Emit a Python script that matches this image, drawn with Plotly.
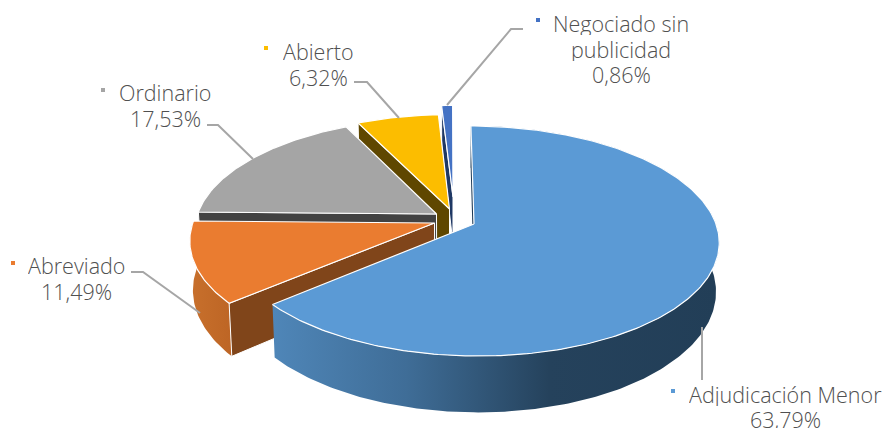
import numpy as np
import plotly.graph_objects as go

# --- data ---
categories = ["Adjudicación Menor", "Abreviado", "Ordinario", "Abierto", "Negociado sin<br>publicidad"]
values = [63.79, 11.49, 17.53, 6.32, 0.86]
top_colors = ["#5b9ad5", "#ea7c30", "#a5a5a5", "#fcbd00", "#4472c4"]
cut_colors = ["#1f3a55", "#80451a", "#424242", "#5f4700", "#1f3864"]

# --- layout of the drawing (pixels of the 885x428 page) ---
W, H = 885, 428
cx, cy, k, kq, p = 450.0, 224.0, 242.0, 112.5, 0.148
depth, shrink = 48.0, 0.988
line_gap = 25.5
apex_px = [(474, 224), (434.5, 223), (436.5, 214), (449.5, 209), (453, 197)]
label_pos = [(785, 394), (76, 265), (165, 92), (318, 51), (621, 23)]
key_pos = [(673, 391), (13, 263), (103, 90), (266, 48), (538, 20)]
leaders = [
    [(702, 327), (702, 380)],
    [(131, 272), (143, 272), (200, 313)],
    [(207, 125), (218, 125), (253, 159)],
    [(354, 82), (367, 82), (399, 118)],
    [(523, 29), (511, 29), (447, 105)],
]
blue_wall_scale = [[0, "#4f86b8"], [0.3, "#3f6d97"], [0.62, "#25425c"], [1, "#223e57"]]
orange_wall_scale = [[0, "#c8702c"], [1, "#bd6525"]]


def project(X, Y):
    w = 1 + p * Y
    return cx + k * X / w, cy - kq * Y / w


def unproject(x, y):
    v = (cy - y) / kq
    Y = v / (1 - p * v)
    return (x - cx) * (1 + p * Y) / k, Y


def lower(X, Y):
    x, y = project(X, Y)
    return cx + (x - cx) * shrink, y + depth / (1 + p * Y)


edges = np.cumsum([0] + values) / sum(values) * 2 * np.pi
fig = go.Figure()


def poly(xs, ys, color=None, line=None, lw=1.0, grad=None):
    kw = dict(fillgradient=dict(type="horizontal", colorscale=grad)) if grad else dict(fillcolor=color)
    fig.add_trace(go.Scatter(x=list(xs), y=list(ys), mode="lines", fill="toself",
                             line=dict(color=line or "rgba(0,0,0,0)", width=lw if line else 0),
                             hoverinfo="skip", showlegend=False, **kw))


for i in [4, 3, 2, 1, 0]:
    X0, Y0 = unproject(*apex_px[i])
    th = np.linspace(edges[i], edges[i + 1], max(4, int(values[i] * 4)))
    RX, RY = X0 + np.sin(th), Y0 + np.cos(th)
    tx, ty = project(RX, RY)
    bx, by = lower(RX, RY)
    # outer wall
    if i in (0, 1):
        poly(np.r_[tx, bx[::-1]], np.r_[ty, by[::-1]], grad=blue_wall_scale if i == 0 else orange_wall_scale)
    # visible cut face
    ax, ay = project(X0, Y0)
    abx, aby = lower(X0, Y0)
    poly([tx[0], ax, abx, bx[0], tx[0]], [ty[0], ay, aby, by[0], ty[0]], color=cut_colors[i],
         line="white" if i else None)
    # top face
    poly(np.r_[ax, tx, ax], np.r_[ay, ty, ay], color=top_colors[i], line="white", lw=1.2)

# leader lines
for seg in leaders:
    fig.add_trace(go.Scatter(x=[q[0] for q in seg], y=[q[1] for q in seg], mode="lines",
                             line=dict(color="#a6a6a6", width=2), hoverinfo="skip", showlegend=False))

# legend keys
fig.add_trace(go.Scatter(x=[q[0] for q in key_pos], y=[q[1] for q in key_pos], mode="markers",
                         marker=dict(symbol="square", size=4, color=top_colors),
                         hoverinfo="skip", showlegend=False))

for name, val, (lx, ly) in zip(categories, values, label_pos):
    lines = name.split("<br>") + [f"{val:.2f}%".replace(".", ",")]
    for j, txt in enumerate(lines):
        yc = ly + j * line_gap
        fig.add_annotation(x=lx, y=yc, text=txt, showarrow=False, height=min(24, 2 * (H - yc)),
                           xanchor="center", yanchor="middle", align="center", valign="middle",
                           font=dict(family="Open Sans", size=21.5, weight=300, color="#505050"))

fig.update_layout(width=W, height=H, margin=dict(l=0, r=0, t=0, b=0),
                  paper_bgcolor="white", plot_bgcolor="white",
                  xaxis=dict(range=[0, W], visible=False, fixedrange=True),
                  yaxis=dict(range=[H, 0], visible=False, fixedrange=True))
fig.write_html("out.html", config=dict(displayModeBar=False),
               post_script="document.body.style.margin='0';document.body.style.overflow='hidden';")
